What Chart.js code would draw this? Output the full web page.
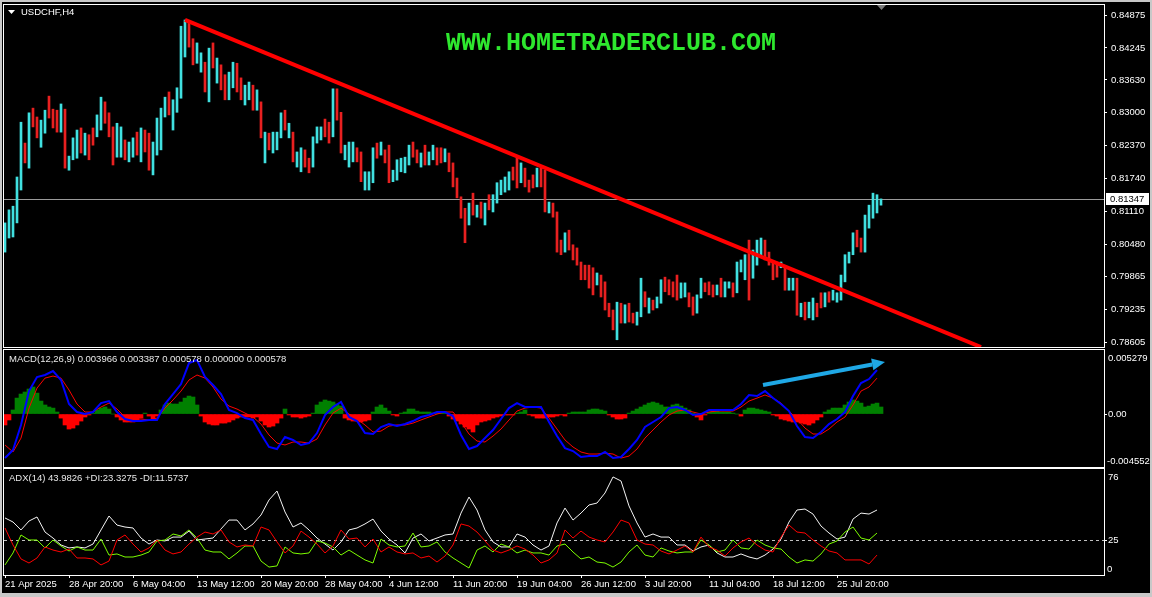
<!DOCTYPE html>
<html lang="en">
<head>
<meta charset="UTF-8">
<title>USDCHF,H4</title>
<script src="https://cdn.jsdelivr.net/npm/chart.js"></script>
<style>
    html, body { margin: 0; padding: 0; background: #c8c8c8; }
    body { width: 1152px; height: 597px; position: relative; overflow: hidden; }
    .screen { position: absolute; left: 2px; top: 2px; width: 1148px; height: 591px; background: #000; }
    .pane { position: absolute; left: 0; width: 1152px; }
    #mainPane { top: 0; height: 349px; }
    #macdPane { top: 349px; height: 119px; }
    #adxPane { top: 468px; height: 129px; }
</style>
</head>
<body>
<div class="screen"></div>
<div class="pane" id="mainPane"><canvas id="mainChart"></canvas></div>
<div class="pane" id="macdPane"><canvas id="macdChart"></canvas></div>
<div class="pane" id="adxPane"><canvas id="adxChart"></canvas></div>

<script>
// price bars (one entry per bar, oldest first)
const highs = [
0.8089,0.8114,0.8121,0.8177,0.8282,0.8242,0.8300,0.8309,0.8292,0.8286,
0.8305,0.8332,0.8307,0.8305,0.8317,0.8307,0.8217,0.8252,0.8267,0.8271,
0.8261,0.8258,0.8271,0.8296,0.8330,0.8321,0.8300,0.8273,0.8280,0.8273,
0.8248,0.8244,0.8252,0.8263,0.8271,0.8267,0.8261,0.8244,0.8290,0.8309,
0.8330,0.8340,0.8325,0.8348,0.8466,0.8478,0.8472,0.8442,0.8434,0.8415,
0.8397,0.8424,0.8434,0.8405,0.8392,0.8373,0.8378,0.8397,0.8395,0.8367,
0.8353,0.8359,0.8353,0.8344,0.8321,0.8263,0.8261,0.8263,0.8263,0.8300,
0.8305,0.8280,0.8263,0.8225,0.8233,0.8229,0.8213,0.8254,0.8273,0.8273,
0.8288,0.8282,0.8346,0.8346,0.8301,0.8238,0.8244,0.8244,0.8233,0.8225,
0.8187,0.8187,0.8233,0.8242,0.8244,0.8229,0.8238,0.8190,0.8210,0.8213,
0.8215,0.8238,0.8244,0.8229,0.8223,0.8238,0.8225,0.8238,0.8233,0.8233,
0.8231,0.8223,0.8204,0.8175,0.8139,0.8117,0.8127,0.8146,0.8123,0.8129,
0.8127,0.8143,0.8143,0.8166,0.8171,0.8177,0.8187,0.8196,0.8213,0.8204,
0.8194,0.8171,0.8181,0.8194,0.8194,0.8190,0.8129,0.8127,0.8110,0.8056,
0.8070,0.8075,0.8047,0.8041,0.8014,0.8008,0.8008,0.8003,0.7993,0.7989,
0.7976,0.7935,0.7922,0.7937,0.7935,0.7932,0.7935,0.7916,0.7918,0.7983,
0.7957,0.7945,0.7941,0.7947,0.7980,0.7985,0.7980,0.7976,0.7989,0.7974,
0.7974,0.7955,0.7947,0.7951,0.7983,0.7974,0.7976,0.7970,0.7970,0.7983,
0.7976,0.7976,0.7974,0.8014,0.8018,0.8028,0.8056,0.8037,0.8056,0.8060,
0.8056,0.8033,0.8014,0.8014,0.8014,0.8005,0.7983,0.7983,0.7983,0.7935,
0.7937,0.7937,0.7945,0.7935,0.7955,0.7955,0.7957,0.7960,0.7955,0.7989,
0.8028,0.8033,0.8070,0.8075,0.8060,0.8104,0.8123,0.8146,0.8143,0.8135
];
const lows = [
0.8033,0.8060,0.8062,0.8089,0.8152,0.8204,0.8194,0.8273,0.8252,0.8234,
0.8261,0.8290,0.8271,0.8263,0.8263,0.8194,0.8190,0.8210,0.8213,0.8223,
0.8219,0.8210,0.8238,0.8254,0.8267,0.8280,0.8254,0.8200,0.8215,0.8215,
0.8210,0.8206,0.8215,0.8219,0.8206,0.8225,0.8190,0.8181,0.8219,0.8229,
0.8292,0.8296,0.8267,0.8301,0.8328,0.8407,0.8426,0.8392,0.8395,0.8378,
0.8340,0.8321,0.8386,0.8357,0.8344,0.8325,0.8325,0.8348,0.8340,0.8325,
0.8315,0.8325,0.8305,0.8305,0.8252,0.8204,0.8229,0.8223,0.8229,0.8252,
0.8267,0.8252,0.8206,0.8196,0.8187,0.8196,0.8185,0.8196,0.8242,0.8248,
0.8254,0.8242,0.8254,0.8286,0.8223,0.8210,0.8196,0.8206,0.8206,0.8168,
0.8152,0.8152,0.8166,0.8213,0.8219,0.8204,0.8166,0.8168,0.8171,0.8187,
0.8185,0.8200,0.8215,0.8204,0.8196,0.8200,0.8200,0.8210,0.8200,0.8204,
0.8206,0.8187,0.8158,0.8137,0.8098,0.8051,0.8085,0.8104,0.8100,0.8098,
0.8085,0.8114,0.8110,0.8127,0.8143,0.8148,0.8152,0.8171,0.8156,0.8166,
0.8158,0.8148,0.8156,0.8158,0.8158,0.8110,0.8108,0.8100,0.8033,0.8028,
0.8033,0.8037,0.8018,0.8008,0.7980,0.7980,0.7964,0.7951,0.7970,0.7947,
0.7922,0.7909,0.7884,0.7865,0.7897,0.7897,0.7899,0.7897,0.7893,0.7909,
0.7928,0.7916,0.7922,0.7926,0.7935,0.7957,0.7951,0.7947,0.7941,0.7945,
0.7947,0.7928,0.7912,0.7916,0.7945,0.7957,0.7951,0.7947,0.7951,0.7947,
0.7947,0.7964,0.7947,0.7955,0.7995,0.7980,0.7941,0.7983,0.8008,0.8028,
0.8018,0.8008,0.7980,0.7985,0.8003,0.7960,0.7960,0.7960,0.7912,0.7909,
0.7903,0.7907,0.7903,0.7909,0.7926,0.7928,0.7937,0.7941,0.7937,0.7941,
0.7976,0.8012,0.8028,0.8043,0.8033,0.8033,0.8079,0.8098,0.8108,0.8123
];
const closes = [
0.8085,0.8110,0.8117,0.8173,0.8279,0.8208,0.8296,0.8277,0.8256,0.8282,
0.8301,0.8294,0.8275,0.8267,0.8313,0.8198,0.8213,0.8248,0.8263,0.8227,
0.8258,0.8254,0.8242,0.8258,0.8326,0.8284,0.8258,0.8204,0.8219,0.8269,
0.8213,0.8240,0.8248,0.8223,0.8267,0.8229,0.8194,0.8240,0.8286,0.8305,
0.8326,0.8300,0.8321,0.8332,0.8459,0.8474,0.8430,0.8395,0.8399,0.8411,
0.8344,0.8420,0.8390,0.8401,0.8388,0.8328,0.8374,0.8393,0.8392,0.8328,
0.8349,0.8355,0.8309,0.8309,0.8256,0.8260,0.8258,0.8260,0.8260,0.8296,
0.8271,0.8277,0.8210,0.8221,0.8229,0.8200,0.8189,0.8250,0.8269,0.8269,
0.8258,0.8246,0.8342,0.8290,0.8227,0.8234,0.8240,0.8240,0.8229,0.8171,
0.8183,0.8183,0.8229,0.8217,0.8240,0.8208,0.8170,0.8187,0.8206,0.8210,
0.8211,0.8234,0.8219,0.8208,0.8219,0.8204,0.8221,0.8234,0.8229,0.8208,
0.8210,0.8190,0.8162,0.8141,0.8135,0.8054,0.8123,0.8108,0.8119,0.8102,
0.8123,0.8117,0.8139,0.8162,0.8168,0.8173,0.8183,0.8175,0.8160,0.8200,
0.8190,0.8168,0.8160,0.8190,0.8162,0.8114,0.8125,0.8104,0.8037,0.8031,
0.8066,0.8041,0.8022,0.8012,0.8010,0.8004,0.7968,0.7955,0.7974,0.7951,
0.7926,0.7912,0.7888,0.7934,0.7901,0.7928,0.7903,0.7901,0.7914,0.7945,
0.7932,0.7941,0.7926,0.7943,0.7976,0.7960,0.7955,0.7951,0.7945,0.7949,
0.7951,0.7932,0.7916,0.7947,0.7980,0.7970,0.7955,0.7951,0.7955,0.7951,
0.7972,0.7974,0.7951,0.8010,0.8014,0.8024,0.8010,0.8033,0.8052,0.8056,
0.8022,0.8012,0.8010,0.7989,0.8006,0.7964,0.7964,0.7980,0.7916,0.7932,
0.7907,0.7934,0.7941,0.7932,0.7930,0.7951,0.7941,0.7945,0.7951,0.7985,
0.8024,0.8029,0.8066,0.8047,0.8037,0.8100,0.8119,0.8123,0.8131,0.81347
];
const lastPrice = 0.81347;
const priceTicks = [0.84875, 0.84245, 0.83630, 0.83000, 0.82370, 0.81740, 0.81110, 0.80480, 0.79865, 0.79235, 0.78605];
// hand drawn trend line, in bar index / price
const trendLine = [{ x: 45, y: 0.8478 }, { x: 244, y: 0.7851 }];

// MACD(12,26,9): main and signal read every second bar, histogram every bar
const macdMain = [
-0.0037,-0.00302,-0.00092,0.00193,0.00311,0.00328,0.00361,0.00286,0.00084,0.00017,
0,0.00017,0.00092,0.00109,0.00017,-0.00042,-0.00059,-0.00059,-0.0005,-0.0005,
0.00084,0.00168,0.00252,0.00428,0.00454,0.00311,0.00244,0.00168,0.00034,0.00008,
-0.00034,-0.0005,-0.00168,-0.00277,-0.00294,-0.00193,-0.00218,-0.0026,-0.00244,-0.0016,
-0.00008,0.00059,0.00101,-0.00025,-0.00059,-0.0016,-0.00168,-0.00109,-0.00084,-0.00101,
-0.00084,-0.00059,-0.00025,-0.00008,0.00017,0.00017,-0.00017,-0.00176,-0.00294,-0.00269,
-0.00202,-0.00134,-0.00042,0.0005,0.00092,0.00059,0.00059,0.00059,-0.00067,-0.00185,
-0.00286,-0.00311,-0.00361,-0.00353,-0.00353,-0.00319,-0.0037,-0.00361,-0.00294,-0.00218,
-0.00109,-0.00067,-0.00025,0.0005,0.00059,0.00034,-0.00008,0,0.00034,0.00034,
0.00034,0.00034,0.00084,0.0016,0.00151,0.00193,0.00134,0.00084,0.00025,-0.00101,
-0.00193,-0.00202,-0.00151,-0.00084,-0.00042,0.00017,0.00151,0.0026,0.00294,0.0037
];
const macdSignal = [
-0.0026,-0.00319,-0.00202,0.0005,0.00218,0.00302,0.00319,0.00302,0.00202,0.00084,
0.00017,0.00017,0.00059,0.00092,0.00042,-0.00025,-0.00042,-0.00042,-0.0005,-0.00034,
0.0005,0.00118,0.00193,0.00286,0.00328,0.00302,0.00227,0.00126,0.00067,0.00042,
0.00008,-0.00025,-0.00084,-0.00176,-0.00244,-0.0026,-0.00235,-0.00235,-0.00244,-0.0021,
-0.00092,0.00008,0.0005,0,-0.00042,-0.00092,-0.00151,-0.00143,-0.00101,-0.00092,
-0.00092,-0.00076,-0.0005,-0.00025,0,0.00017,0.00017,-0.00067,-0.00168,-0.00227,
-0.00235,-0.00185,-0.00126,-0.0005,0.00025,0.0005,0.00059,0.0005,-0.00034,-0.00126,
-0.00218,-0.00277,-0.00319,-0.00336,-0.00336,-0.00328,-0.00336,-0.0037,-0.00353,-0.00294,
-0.00202,-0.00134,-0.00067,-0.00008,0.00025,0.00034,0.00017,0,0.00017,0.00025,
0.00025,0.00025,0.00059,0.00109,0.00134,0.0016,0.00134,0.00092,0.00025,-0.00042,
-0.00118,-0.00168,-0.00168,-0.00126,-0.00067,-0.00025,0.00076,0.00193,0.00227,0.00302
];
const macdHist = [
-0.00092,-0.0005,0.00034,0.00134,0.00168,0.00185,0.0021,0.00227,0.00176,0.00109,
0.00076,0.00059,0.0005,0.00017,-0.00034,-0.00092,-0.00126,-0.00118,-0.00092,-0.00059,
-0.00025,-0.00008,0.00008,0.00034,0.0005,0.00059,0.00042,0,-0.00025,-0.0005,
-0.00067,-0.00067,-0.00067,-0.0005,-0.00034,0.00008,-0.00017,-0.00042,-0.00017,0.00034,
0.00076,0.00092,0.00084,0.00084,0.00101,0.00134,0.00151,0.00143,0.00076,-0.00017,
-0.00067,-0.00084,-0.00092,-0.00092,-0.00076,-0.00076,-0.00067,-0.0005,-0.00034,-0.00025,
-0.00025,-0.00025,-0.00034,-0.00025,-0.00059,-0.00092,-0.00109,-0.00101,-0.00076,-0.00034,
0.00042,-0.00008,-0.00025,-0.00025,-0.00034,-0.00025,-0.00017,0.00008,0.00076,0.00101,
0.00118,0.00109,0.00101,0.00084,0.00067,-0.00034,-0.0005,-0.00059,-0.00059,-0.00067,
-0.00059,-0.0005,0.00017,0.00059,0.00076,0.0005,0.00025,-0.00008,-0.00017,0.00008,
0.00017,0.00042,0.00042,0.00025,0.00017,0.00017,0.00017,0.00008,0.00008,0.00017,
0.00017,-0.00017,-0.00042,-0.00059,-0.00084,-0.00109,-0.00126,-0.00151,-0.00092,-0.00067,
-0.00059,-0.0005,-0.00034,-0.00025,-0.00017,-0.00008,-0.00008,-0.00008,0.00008,0.00017,
0.00034,-0.00008,-0.00017,-0.00034,-0.00034,-0.00034,-0.00025,-0.00025,-0.00017,-0.00008,
-0.00017,0.00008,0.00017,0.00017,0.00017,0.00017,0.00034,0.00042,0.00042,0.00034,
0.00025,-0.00008,-0.00025,-0.00042,-0.00042,-0.00034,0.00008,0.00025,0.00042,0.00059,
0.00076,0.00092,0.00101,0.00092,0.00076,0.00059,0.00059,0.00076,0.00084,0.00067,
0.0005,0.00034,0.00008,-0.00025,-0.0005,-0.00008,0.00017,0.00025,0.00025,0.00017,
0.00017,0.00017,0.00008,0,-0.00017,0.00034,0.0005,0.0005,0.00042,0.00034,
0.00025,0.00017,-0.00008,-0.00017,-0.00042,-0.0005,-0.00059,-0.00067,-0.00067,-0.00076,
-0.00084,-0.00092,-0.00076,-0.0005,-0.00025,0.00017,0.00034,0.0005,0.0005,0.0005,
0.00076,0.00101,0.00118,0.00109,0.00092,0.00059,0.00067,0.00084,0.00092,0.00059
];
// arrow drawn on the MACD window (bar index / MACD value)
const macdArrow = [{ x: 189.5, y: 0.00244 }, { x: 220, y: 0.00437 }];

// ADX(14), read every second bar
const adxLine = [
40.9,38.0,32.3,38.7,41.6,30.8,26.5,21.5,19.4,20.1,
19.4,22.2,32.3,42.3,35.8,34.4,33.7,26.5,22.2,25.1,
24.4,27.2,27.2,31.5,25.1,25.8,26.5,33.0,39.4,39.4,
32.3,36.6,43.0,53.8,60.2,45.2,34.4,37.3,32.3,26.5,
22.2,17.9,23.7,32.3,33.7,36.6,40.1,31.5,25.8,21.5,
15.8,26.5,29.4,24.4,26.5,28.7,29.4,44.4,55.9,46.6,
32.3,23.7,20.1,20.1,29.4,27.2,21.5,17.9,20.8,37.3,
48.0,39.4,44.4,50.2,51.6,58.8,70.3,67.4,49.5,37.3,
27.2,29.4,27.2,27.2,21.5,21.5,17.2,20.1,21.5,15.8,
12.9,12.9,15.1,12.9,11.5,14.3,18.6,25.8,38.0,46.6,
47.3,43.7,35.1,30.1,25.8,27.2,40.1,44.4,43.7,46.6
];
const plusDI = [
7.2,15.8,28.7,25.1,25.1,19.4,25.1,20.8,17.2,20.1,
17.9,17.9,25.8,14.3,15.1,12.9,12.9,14.3,16.5,24.4,
25.1,29.4,28.0,32.3,26.5,17.9,16.5,16.5,11.5,15.8,
20.8,20.8,10.0,5.7,6.5,20.1,15.8,15.1,15.8,24.4,
22.9,20.1,14.3,17.9,14.3,10.8,8.6,25.8,21.5,20.1,
20.8,30.1,20.1,20.8,23.7,16.5,12.2,8.6,5.0,17.9,
20.8,16.5,22.2,20.1,15.8,17.9,15.8,15.8,14.3,20.8,
22.2,16.5,11.5,12.9,9.3,8.6,5.7,9.3,16.5,21.5,
14.3,12.9,19.4,17.2,15.8,16.5,16.5,25.1,21.5,16.5,
17.9,25.1,19.4,18.6,25.1,21.5,19.4,18.6,12.9,8.6,
10.8,10.0,15.1,22.2,24.4,30.8,34.4,26.5,25.1,30.1
];
const minusDI = [
33.7,21.5,11.5,8.6,12.2,20.1,17.9,16.5,18.6,12.2,
12.2,11.5,7.2,10.0,25.1,28.7,22.2,16.5,19.4,25.1,
17.9,15.1,16.5,22.2,27.2,30.8,29.4,32.3,23.7,20.1,
21.5,20.8,34.4,32.3,23.7,15.8,20.8,31.5,27.2,22.2,
15.8,20.8,32.3,25.8,26.5,20.1,25.8,16.5,20.1,16.5,
15.1,15.8,12.2,13.6,9.3,13.6,21.5,36.6,35.1,30.8,
24.4,17.9,15.8,17.9,20.8,18.6,14.3,8.6,10.8,15.8,
32.3,26.5,31.5,27.2,25.1,23.7,30.8,39.4,37.3,25.1,
22.2,21.5,17.2,15.1,17.9,20.8,16.5,27.2,20.1,17.9,
13.6,19.4,23.7,26.5,21.5,17.9,16.5,27.2,35.8,30.8,
30.1,25.1,20.8,17.2,15.8,10.8,10.8,10.8,7.9,14.3
];
const adxLevels = [25];

const timeLabels = ['21 Apr 2025', '28 Apr 20:00', '6 May 04:00', '13 May 12:00', '20 May 20:00',
    '28 May 04:00', '4 Jun 12:00', '11 Jun 20:00', '19 Jun 04:00', '26 Jun 12:00',
    '3 Jul 20:00', '11 Jul 04:00', '18 Jul 12:00', '25 Jul 20:00'];
const LABEL_EVERY = 16;   // bars between time labels
const IND_STEP = 2;       // indicator lines were read every second bar

// layout
const X_MIN = -0.25, X_MAX = 274.75;
const AXIS_W = 48;
const FONT = '"Liberation Sans", Arial, sans-serif';
const UP = '#40e0e0', DOWN = '#e82020';

Chart.defaults.animation = false;
Chart.defaults.events = [];
Chart.defaults.font.family = FONT;
Chart.defaults.font.size = 9.5;
Chart.defaults.color = '#ffffff';
Chart.defaults.plugins.legend.display = false;
Chart.defaults.plugins.tooltip.enabled = false;

function xAxis() {
    return { type: 'linear', min: X_MIN, max: X_MAX, display: false, offset: false };
}

function yAxis(min, max, padding, extra) {
    return Object.assign({
        type: 'linear', position: 'right', min: min, max: max,
        afterFit: s => { s.width = AXIS_W; s.paddingTop = 0; s.paddingBottom = 0; },
        grid: { drawOnChartArea: false, color: '#ffffff', tickLength: 3 },
        border: { display: true, color: '#ffffff' },
        ticks: { padding: padding, color: '#ffffff', font: { size: 9.5 } }
    }, extra);
}

function drawFrame(chart) {
    const { ctx, chartArea: a } = chart;
    ctx.save();
    ctx.strokeStyle = '#ffffff';
    ctx.lineWidth = 1;
    ctx.strokeRect(a.left - 0.5, a.top - 0.5, a.right - a.left + 1, a.bottom - a.top + 1);
    ctx.restore();
}

function paneDecor(title, topLabel, bottomLabel, levels) {
    return {
        id: 'paneDecor',
        beforeDatasetsDraw(chart) {
            const { ctx, chartArea: a, scales: { y } } = chart;
            ctx.save();
            ctx.strokeStyle = '#c0c0c0';
            ctx.setLineDash([3, 3]);
            levels.forEach(v => {
                const py = Math.round(y.getPixelForValue(v)) + 0.5;
                ctx.beginPath();
                ctx.moveTo(a.left, py);
                ctx.lineTo(a.right, py);
                ctx.stroke();
            });
            ctx.restore();
        },
        afterDraw(chart) {
            const { ctx, chartArea: a } = chart;
            drawFrame(chart);
            ctx.save();
            ctx.font = '9.5px ' + FONT;
            ctx.fillStyle = '#e8e8e8';
            ctx.textBaseline = 'middle';
            ctx.textAlign = 'left';
            ctx.fillText(title, a.left + 5, a.top + 9);
            ctx.fillStyle = '#ffffff';
            ctx.fillText(topLabel, a.right + 4, a.top + 8);
            ctx.fillText(bottomLabel, a.right + 3, a.bottom - 6);
            ctx.restore();
        }
    };
}

// main window
const barColors = closes.map((c, i) => c >= (i ? closes[i - 1] : lows[0]) ? UP : DOWN);

const mainDecor = {
    id: 'mainDecor',
    beforeDatasetsDraw(chart) {
        const { ctx, chartArea: a, scales: { y } } = chart;
        const py = Math.round(y.getPixelForValue(lastPrice)) + 0.5;
        ctx.save();
        ctx.strokeStyle = '#9a9a9a';
        ctx.lineWidth = 1;
        ctx.beginPath();
        ctx.moveTo(a.left, py);
        ctx.lineTo(a.right, py);
        ctx.stroke();
        ctx.font = 'bold 25px "Liberation Mono", "DejaVu Sans Mono", monospace';
        ctx.fillStyle = '#2ee82e';
        ctx.textBaseline = 'middle';
        ctx.fillText('WWW.HOMETRADERCLUB.COM', 446, 44);
        ctx.restore();
    },
    afterDraw(chart) {
        const { ctx, chartArea: a, scales: { x, y } } = chart;
        drawFrame(chart);
        ctx.save();
        // symbol caption
        ctx.fillStyle = '#ffffff';
        ctx.beginPath();
        ctx.moveTo(a.left + 4, a.top + 5);
        ctx.lineTo(a.left + 11, a.top + 5);
        ctx.lineTo(a.left + 7.5, a.top + 9);
        ctx.closePath();
        ctx.fill();
        ctx.font = '9.5px ' + FONT;
        ctx.textBaseline = 'middle';
        ctx.fillText('USDCHF,H4', a.left + 17, a.top + 7);
        // chart shift marker
        const sx = x.getPixelForValue(closes.length - 1);
        ctx.fillStyle = '#7a7a7a';
        ctx.beginPath();
        ctx.moveTo(sx - 4, a.top);
        ctx.lineTo(sx + 5, a.top);
        ctx.lineTo(sx + 0.5, a.top + 5);
        ctx.closePath();
        ctx.fill();
        // last price tag
        const py = Math.round(y.getPixelForValue(lastPrice));
        ctx.fillStyle = '#ffffff';
        ctx.fillRect(a.right + 2, py - 6, 43, 12);
        ctx.fillStyle = '#000000';
        ctx.fillText(lastPrice.toFixed(5), a.right + 6, py);
        ctx.restore();
    }
};

new Chart(document.getElementById('mainChart'), {
    type: 'bar',
    data: {
        datasets: [
            {
                type: 'line', data: trendLine, borderColor: '#ff0000', borderWidth: 4,
                pointRadius: 0, clip: 0, order: 0
            },
            {
                data: highs.map((h, i) => ({ x: i, y: [lows[i], h] })),
                backgroundColor: barColors, barThickness: 2, order: 1
            }
        ]
    },
    options: {
        responsive: true, maintainAspectRatio: false, devicePixelRatio: 1,
        layout: { padding: { left: 4, top: 5, right: 0, bottom: 2 } },
        scales: {
            x: xAxis(),
            y: yAxis(0.78511, 0.85067, 4, {
                afterBuildTicks: s => { s.ticks = priceTicks.map(v => ({ value: v })); }
            })
        }
    },
    plugins: [mainDecor]
});
Chart.getChart('mainChart').options.scales.y.ticks.callback = v => v.toFixed(5);
Chart.getChart('mainChart').update();

// MACD window
new Chart(document.getElementById('macdChart'), {
    type: 'bar',
    data: {
        datasets: [
            {
                type: 'line', data: macdMain.map((v, j) => ({ x: j * IND_STEP, y: v })),
                borderColor: '#0000ff', borderWidth: 2, pointRadius: 0, order: 0
            },
            {
                type: 'line', data: macdSignal.map((v, j) => ({ x: j * IND_STEP, y: v })),
                borderColor: '#ff0000', borderWidth: 1, pointRadius: 0, order: 1
            },
            {
                data: macdHist.map((v, i) => ({ x: i, y: v })),
                backgroundColor: macdHist.map(v => v >= 0 ? '#008000' : '#ff0000'),
                barThickness: 4, order: 2
            }
        ]
    },
    options: {
        responsive: true, maintainAspectRatio: false, devicePixelRatio: 1,
        layout: { padding: { left: 4, top: 1, right: 0, bottom: 1 } },
        scales: {
            x: xAxis(),
            y: yAxis(-0.00445, 0.00538, 1, {
                afterBuildTicks: s => { s.ticks = [{ value: 0 }]; }
            })
        }
    },
    plugins: [
        paneDecor('MACD(12,26,9) 0.003966 0.003387 0.000578 0.000000 0.000578', '0.005279', '-0.004552', []),
        {
            id: 'macdArrow',
            afterDatasetsDraw(chart) {
                const { ctx, scales: { x, y } } = chart;
                const x0 = x.getPixelForValue(macdArrow[0].x), y0 = y.getPixelForValue(macdArrow[0].y);
                const x1 = x.getPixelForValue(macdArrow[1].x), y1 = y.getPixelForValue(macdArrow[1].y);
                const ang = Math.atan2(y1 - y0, x1 - x0);
                const head = 13;
                ctx.save();
                ctx.strokeStyle = '#1fa8e6';
                ctx.fillStyle = '#1fa8e6';
                ctx.lineWidth = 4;
                ctx.beginPath();
                ctx.moveTo(x0, y0);
                ctx.lineTo(x1 - head * Math.cos(ang), y1 - head * Math.sin(ang));
                ctx.stroke();
                ctx.beginPath();
                ctx.moveTo(x1, y1);
                ctx.lineTo(x1 - head * Math.cos(ang) + 6 * Math.sin(ang), y1 - head * Math.sin(ang) - 6 * Math.cos(ang));
                ctx.lineTo(x1 - head * Math.cos(ang) - 6 * Math.sin(ang), y1 - head * Math.sin(ang) + 6 * Math.cos(ang));
                ctx.closePath();
                ctx.fill();
                ctx.restore();
            }
        }
    ]
});
Chart.getChart('macdChart').options.scales.y.ticks.callback = () => '0.00';
Chart.getChart('macdChart').update();

// ADX window
const adxX = Object.assign(xAxis(), {
    display: true, position: 'bottom',
    afterBuildTicks: s => { s.ticks = timeLabels.map((t, k) => ({ value: k * LABEL_EVERY })); },
    afterFit: s => { s.height = 22; s.paddingLeft = 0; s.paddingRight = 0; },
    grid: { drawOnChartArea: false, color: '#ffffff', tickLength: 3 },
    border: { display: true, color: '#ffffff' },
    ticks: {
        autoSkip: false, maxRotation: 0, minRotation: 0, align: 'start', padding: 1,
        color: '#ffffff', font: { size: 9.5 }, callback: (v, k) => timeLabels[k]
    }
});

new Chart(document.getElementById('adxChart'), {
    type: 'line',
    data: {
        datasets: [
            {
                data: minusDI.map((v, j) => ({ x: j * IND_STEP, y: v })),
                borderColor: '#ff0000', borderWidth: 1, pointRadius: 0, order: 0
            },
            {
                data: plusDI.map((v, j) => ({ x: j * IND_STEP, y: v })),
                borderColor: '#7cfc00', borderWidth: 1, pointRadius: 0, order: 1
            },
            {
                data: adxLine.map((v, j) => ({ x: j * IND_STEP, y: v })),
                borderColor: '#f4f4f4', borderWidth: 1, pointRadius: 0, order: 2
            }
        ]
    },
    options: {
        responsive: true, maintainAspectRatio: false, devicePixelRatio: 1,
        layout: { padding: { left: 4, top: 1, right: 0, bottom: 0 } },
        scales: {
            x: adxX,
            y: yAxis(0, 76, 1, {
                afterBuildTicks: s => { s.ticks = adxLevels.map(v => ({ value: v })); }
            })
        }
    },
    plugins: [paneDecor('ADX(14) 43.9826 +DI:23.3275 -DI:11.5737', '76', '0', adxLevels)]
});
</script>
</body>
</html>
